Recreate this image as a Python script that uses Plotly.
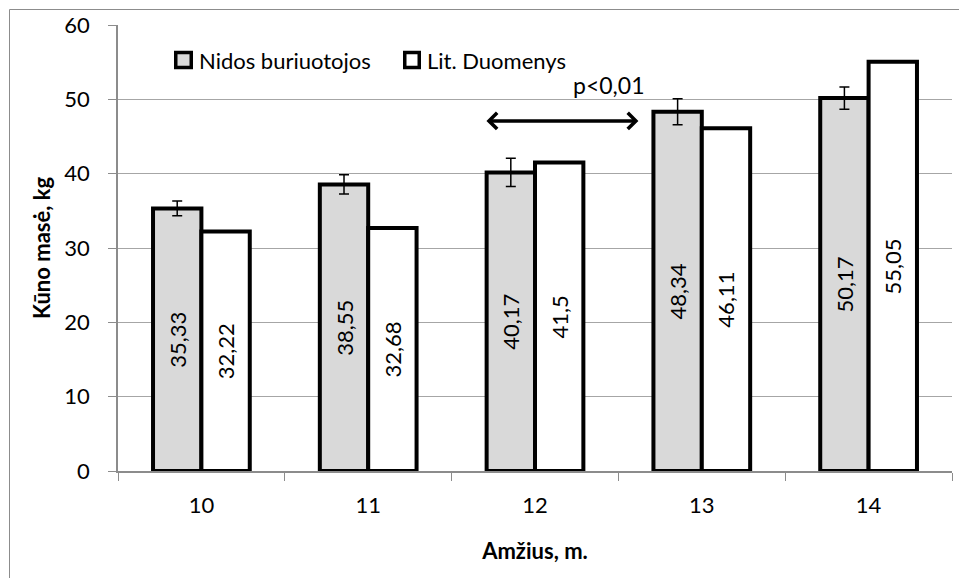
import plotly.graph_objects as go

ages = ["10", "11", "12", "13", "14"]
nidos = [35.33, 38.55, 40.17, 48.34, 50.17]
nidos_err = [1.0, 1.3, 1.9, 1.75, 1.5]
lit = [32.22, 32.68, 41.5, 46.11, 55.05]
y_ticks = [0, 10, 20, 30, 40, 50, 60]
series_names = ["Nidos buriuotojos", "Lit. Duomenys"]
series_fill = ["#d9d9d9", "white"]

FONT = "Lato"
W, H = 959, 578
L, R, T, B = 118, 7, 25, 107


def px_x(px):
    """Pixel column -> paper x."""
    return (px - L) / (W - L - R)


def px_y(py):
    """Pixel row -> paper y."""
    return (H - B - py) / (H - T - B)


def fmt(v):
    return str(v).replace(".", ",")


label_font = dict(family=FONT, size=22, color="black")

fig = go.Figure()
fig.add_trace(go.Bar(
    x=ages, y=nidos, name=series_names[0],
    marker=dict(color=series_fill[0], line=dict(color="black", width=4)),
    error_y=dict(type="data", array=nidos_err, color="black", thickness=1.5, width=5),
    text=[fmt(v) for v in nidos], textposition="inside", textangle=-90,
    insidetextanchor="middle", insidetextfont=label_font, constraintext="none",
))
fig.add_trace(go.Bar(
    x=ages, y=lit, name=series_names[1],
    marker=dict(color=series_fill[1], line=dict(color="black", width=4)),
    text=[fmt(v) for v in lit], textposition="inside", textangle=-90,
    insidetextanchor="middle", insidetextfont=label_font, constraintext="none",
))

# significance arrow between ages 12 and 13
fig.add_annotation(
    x=2.62, y=47.1, ax=1.70, ay=47.1, xref="x", yref="y", axref="x", ayref="y",
    text="", showarrow=True, arrowhead=4, startarrowhead=4, arrowside="end+start",
    arrowwidth=3.5, arrowsize=0.9, startarrowsize=0.9, arrowcolor="black",
)
fig.add_annotation(
    x=2.44, y=51.9, xref="x", yref="y", text="p<0,01", showarrow=False,
    font=dict(family=FONT, size=23, color="black"),
)

# legend: framed swatches followed by series names
swatches = [(174, 193), (403, 421)]
for (x0, x1), name, fill in zip(swatches, series_names, series_fill):
    fig.add_shape(type="rect", xref="paper", yref="paper",
                  x0=px_x(x0 + 1.75), x1=px_x(x1 - 1.75),
                  y0=px_y(52.5), y1=px_y(67.5),
                  fillcolor=fill, line=dict(color="black", width=3.5))
    fig.add_annotation(x=px_x(x1 + 4), y=px_y(60), xref="paper", yref="paper",
                       xanchor="left", yanchor="middle", text=name,
                       showarrow=False, font=label_font)

# outer chart frame
frame = dict(color="#8c8c8c", width=1)
fig.add_shape(type="line", xref="paper", yref="paper",
              x0=px_x(9.5), x1=px_x(9.5), y0=px_y(9.5), y1=px_y(700), line=frame)
fig.add_shape(type="line", xref="paper", yref="paper",
              x0=px_x(9.5), x1=px_x(1100), y0=px_y(9.5), y1=px_y(9.5), line=frame)

fig.update_layout(
    width=W, height=H,
    margin=dict(l=L, r=R, t=T, b=B),
    paper_bgcolor="white", plot_bgcolor="white",
    barmode="group", bargap=0.42, bargroupgap=0,
    font=dict(family=FONT, size=22, color="black"),
    showlegend=False,
    xaxis=dict(
        type="category", showline=True, linecolor="#8c8c8c", linewidth=1.5,
        ticks="outside", tickson="boundaries", ticklen=8, tickcolor="#8c8c8c",
        ticklabelstandoff=14,
        showgrid=False, tickfont=label_font,
        title=dict(text="<b>Amžius, m.</b>", font=label_font, standoff=26),
    ),
    yaxis=dict(
        range=[0, 60], tickvals=y_ticks, showline=True, linecolor="#8c8c8c", linewidth=1.5,
        ticks="outside", ticklen=8, tickcolor="#8c8c8c", ticklabelstandoff=14,
        showgrid=True, gridcolor="#a6a6a6", gridwidth=1, zeroline=False,
        tickfont=label_font,
        title=dict(text="<b>Kūno masė, kg</b>", font=label_font, standoff=8),
    ),
)

fig.write_html("out.html")
